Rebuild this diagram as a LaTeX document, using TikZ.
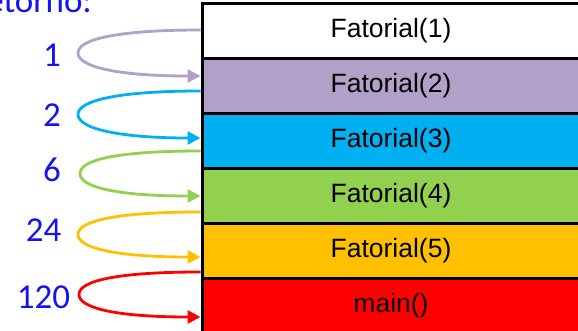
\documentclass[tikz,border=0pt]{standalone}
\usepackage{fontspec}
\setmainfont{Liberation Sans}
\newfontfamily\lblfont{Carlito}
\usetikzlibrary{arrows.meta}
\definecolor{cpurple}{RGB}{177,160,199}
\definecolor{ccyan}{RGB}{0,176,240}
\definecolor{cgreen}{RGB}{146,208,80}
\definecolor{corange}{RGB}{255,192,0}
\definecolor{cred}{RGB}{255,0,0}
\definecolor{lblue}{RGB}{20,20,240}
\tikzset{
  frame/.style={draw=black, line width=3pt, rectangle, minimum width=382pt, minimum height=55pt, inner sep=0pt,
    font=\fontsize{26.5}{30}\selectfont},
  lbl/.style={text=lblue, inner sep=0pt, font=\lblfont\fontsize{35}{40}\selectfont},
  ret/.style={line width=2.8pt, -{Triangle[length=13pt,width=13pt]}},
}
\begin{document}
\begin{tikzpicture}[x=1pt,y=-1pt]
\useasboundingbox (0,0) rectangle (578,331);
\node[frame, fill=white]   (f1) at (393,31)  {\hspace*{-4pt}Fatorial(1)};
\node[frame, fill=cpurple] (f2) at (393,86)  {\hspace*{-4pt}Fatorial(2)};
\node[frame, fill=ccyan]   (f3) at (393,141) {\hspace*{-4pt}Fatorial(3)};
\node[frame, fill=cgreen]  (f4) at (393,196) {\hspace*{-4pt}Fatorial(4)};
\node[frame, fill=corange] (f5) at (393,251) {\hspace*{-4pt}Fatorial(5)};
\node[frame, fill=cred]    (f6) at (393,306) {\hspace*{-4pt}main()};

\node[lbl, anchor=base east] (rt) at (92,13) {Retorno:};
\node[lbl] (l1) at (52,55)    {1};
\node[lbl] (l2) at (52,115.5) {2};
\node[lbl] (l3) at (52,169.5) {6};
\node[lbl] (l4) at (43.5,230) {24};
\node[lbl] (l5) at (43.5,297) {120};

\coordinate (t1) at (78,53);
\coordinate (t2) at (78,114.5);
\coordinate (t3) at (80,173.5);
\coordinate (t4) at (78,234.5);
\coordinate (t5) at (79,294.5);

\draw[ret, cpurple] ([yshift=1pt]f1.west) .. controls +(-82,0) and +(0,-14) .. (t1)
   .. controls +(0,14) and +(-82,0) .. ([yshift=10pt]f2.west);
\draw[ret, ccyan] ([yshift=-5pt]f2.west) .. controls +(-82,0) and +(0,-14) .. (t2)
   .. controls +(0,14) and +(-82,0) .. ([yshift=3pt]f3.west);
\draw[ret, cgreen] ([yshift=-10pt]f3.west) .. controls +(-82,0) and +(0,-14) .. (t3)
   .. controls +(0,14) and +(-82,0) .. (f4.west);
\draw[ret, corange] ([yshift=-16pt]f4.west) .. controls +(-82,0) and +(0,-14) .. (t4)
   .. controls +(0,14) and +(-82,0) .. ([yshift=-6pt]f5.west);
\draw[ret, cred] ([yshift=-21pt]f5.west) .. controls +(-82,0) and +(0,-14) .. (t5)
   .. controls +(0,14) and +(-82,0) .. ([yshift=-11pt]f6.west);
\end{tikzpicture}
\end{document}
